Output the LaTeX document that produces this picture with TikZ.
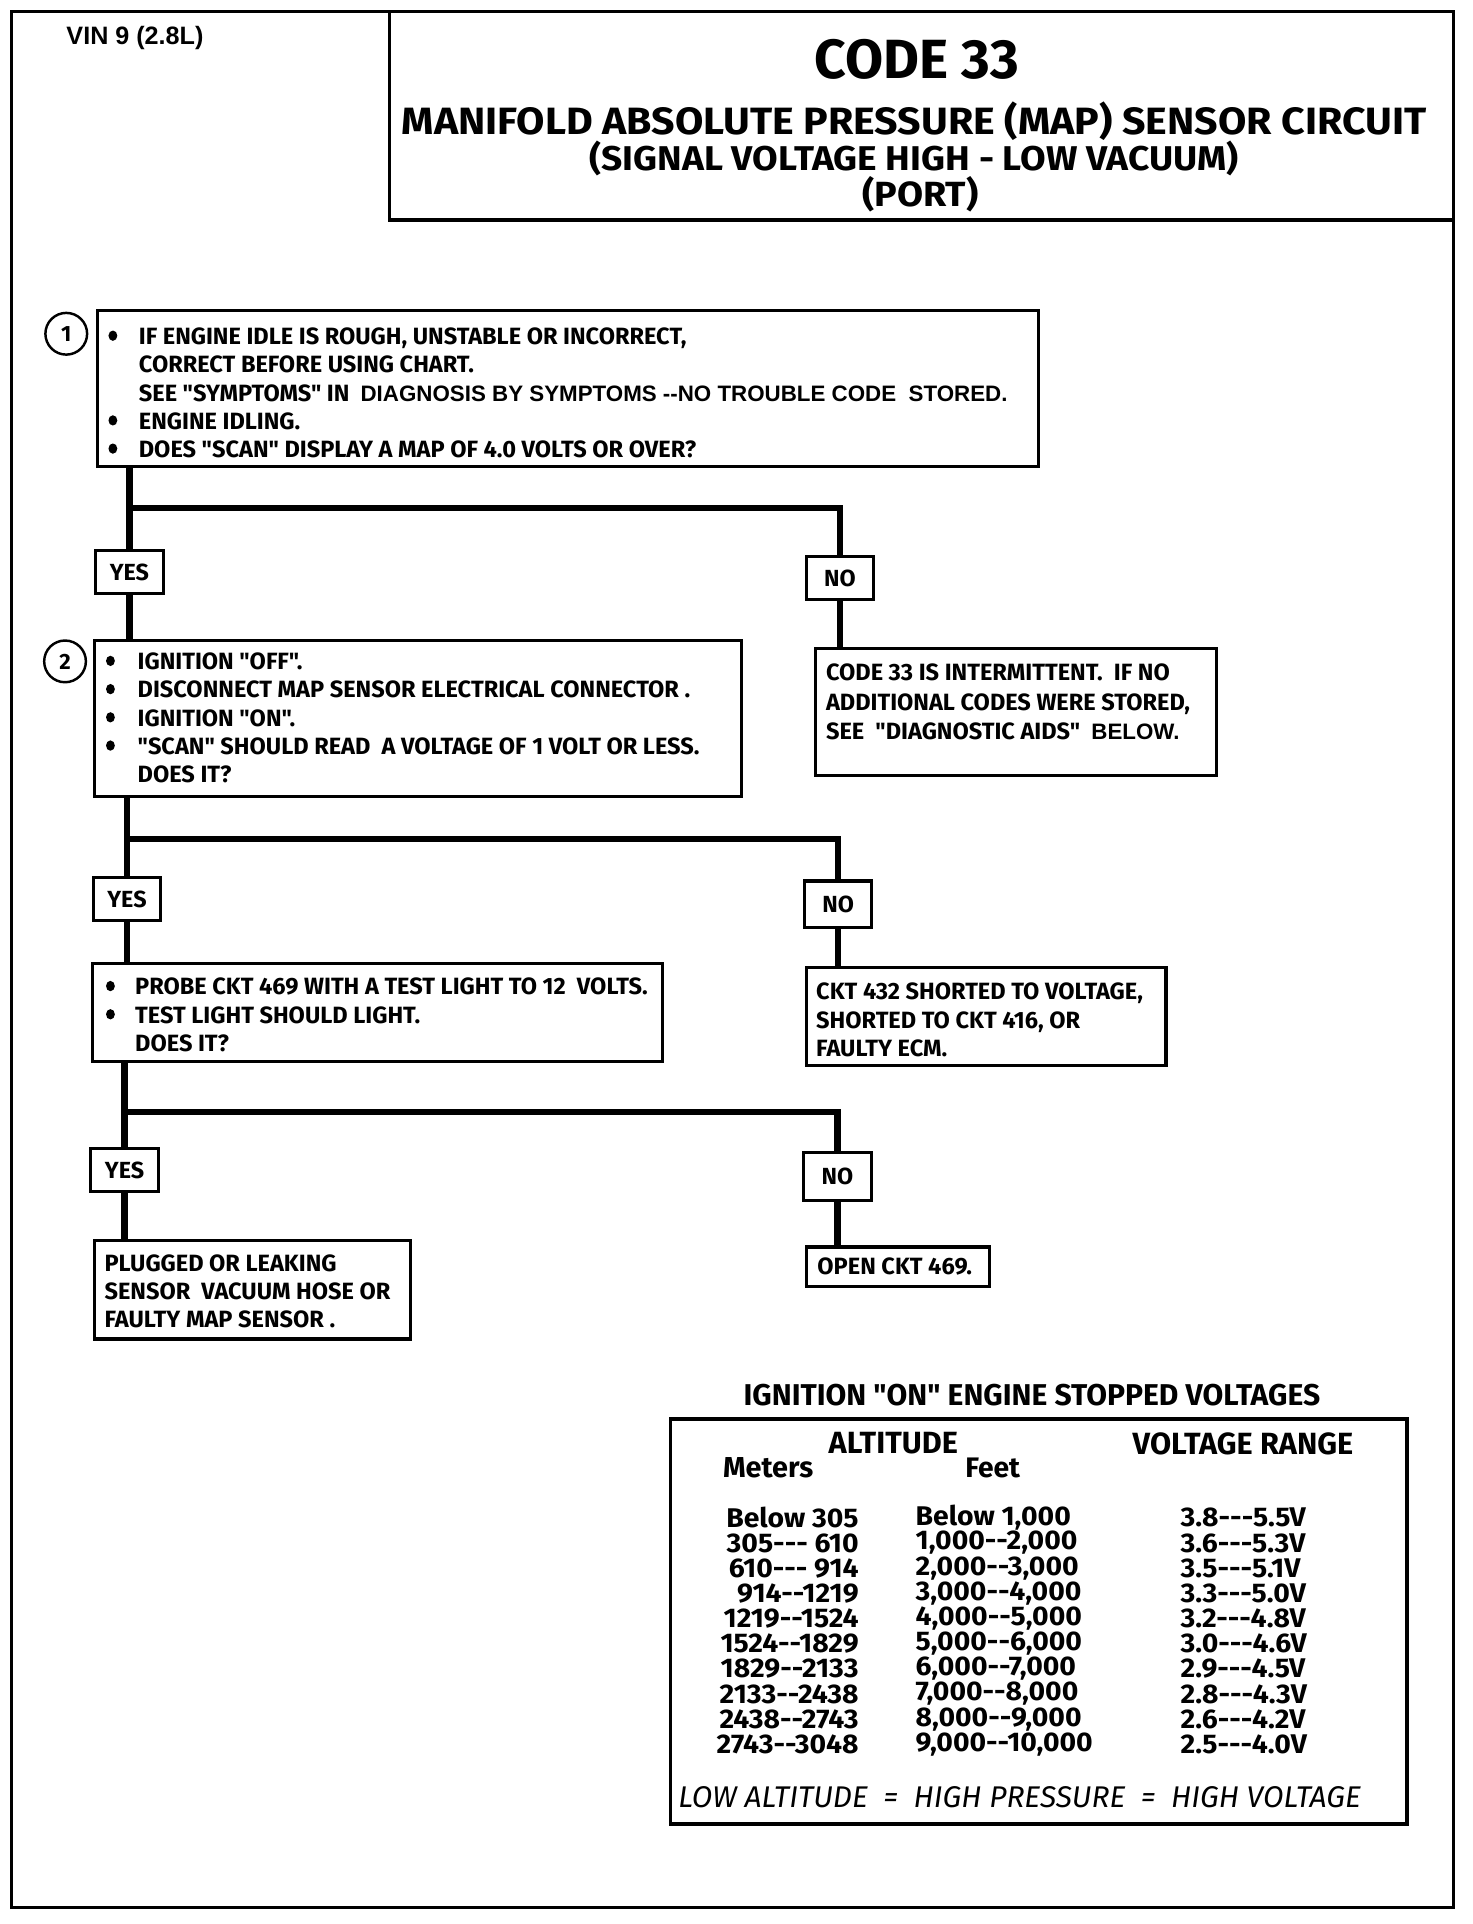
\documentclass[tikz,border=0pt]{standalone}
\usepackage{fontspec}
\setmainfont{Fira Sans}[Ligatures=TeXOff]
\newfontfamily\cf{Fira Sans}[Ligatures=TeXOff,WordSpace=1.3]
\newfontfamily\tf{Fira Sans}[Ligatures=TeXOff]
\newfontfamily\tfw{Fira Sans}[Ligatures=TeXOff,FakeStretch=1.05]
\newfontfamily\hf{Fira Sans}[Ligatures=TeXOff,FakeStretch=1.08]
\newfontfamily\af{Liberation Sans Bold}[Ligatures=TeXOff]
\newcommand{\ar}[1]{{\af\fontsize{18.2}{23}\selectfont #1}}
\tikzset{
  frame/.style={draw, line width=3pt, anchor=north west, inner sep=0pt},
  box/.style={draw, line width=2.5pt, anchor=north west, inner sep=0pt},
  conn/.style={line width=5pt},
  dot/.style={fill=black},
  yn/.style={draw, line width=2.5pt, minimum width=55pt, minimum height=35pt, inner sep=0pt,
    font=\cf\bfseries\fontsize{19}{19}\selectfont},
  txt/.style={anchor=north west, inner sep=0pt, align=left,
    font=\cf\bfseries\fontsize{19.2}{23}\selectfont},
  num/.style={draw, circle, line width=2pt, minimum size=34pt, inner sep=0pt,
    font=\bfseries\fontsize{18}{18}\selectfont},
  tabtxt/.style={inner sep=0pt, font=\tfw\bfseries\fontsize{22}{22}\selectfont},
  tabhead/.style={inner sep=0pt, font=\tf\bfseries\fontsize{25}{25}\selectfont},
}
\begin{document}
\begin{tikzpicture}[x=1pt,y=-1pt]
\useasboundingbox (0,0) rectangle (1200,1568);
\fill[white] (0,0) rectangle (1200,1568);
% outer frame and title box
\node[frame, minimum width=1175pt, minimum height=1545pt] (frm) at (8,8) {};
\node[frame, minimum width=867pt, minimum height=170pt] (tb) at (316,8) {};
\node[font=\af\fontsize{20.5}{20}\selectfont] (vin) at (110,31) {VIN 9 (2.8L)};
\node[font=\cf\bfseries\fontsize{45}{45}\selectfont] (c33) at (747,48) {CODE 33};
\node[font=\hf\bfseries\fontsize{31}{31}\selectfont] (ttl) at (745,99) {MANIFOLD ABSOLUTE PRESSURE (MAP) SENSOR CIRCUIT};
\node[font=\hf\bfseries\fontsize{28}{28}\selectfont] (sub) at (745,129) {(SIGNAL VOLTAGE HIGH - LOW VACUUM)};
\node[font=\hf\bfseries\fontsize{28.5}{28}\selectfont] (port) at (750,158) {(PORT)};

% step 1
\node[num] (s1) at (54,272) {1};
\node[box, minimum width=767pt, minimum height=127pt] (b1) at (78,252) {};
\node[txt] (t1) at (113,267) {IF ENGINE IDLE IS ROUGH, UNSTABLE OR INCORRECT,\\
CORRECT BEFORE USING CHART.\\
SEE "SYMPTOMS" IN \ \ar{DIAGNOSIS BY SYMPTOMS --NO TROUBLE CODE \ STORED.}\\
ENGINE IDLING.\\
DOES "SCAN" DISPLAY A MAP OF 4.0 VOLTS OR OVER?};
\foreach \yy in {273.6,342.6,365.6} \fill[dot] (92,\yy) ellipse (3.6 and 4.2);
\node[yn] (y1) at (105.5,466.5) {YES};
\node[yn] (n1) at (684.5,471) {NO};
\coordinate (j1) at (0,414);

% step 2
\node[num] (s2) at (53,539) {2};
\node[box, minimum width=527pt, minimum height=127pt] (b2) at (76,521) {};
\node[txt] (t2) at (112,532) {IGNITION "OFF".\\
DISCONNECT MAP SENSOR ELECTRICAL CONNECTOR .\\
IGNITION "ON".\\
"SCAN" SHOULD READ \ A VOLTAGE OF 1 VOLT OR LESS.\\
DOES IT?};
\foreach \yy in {538.6,561.6,584.6,607.6} \fill[dot] (90,\yy) ellipse (3.6 and 4.2);
\node[box, minimum width=327pt, minimum height=104pt] (r1) at (663,527) {};
\node[txt, font=\cf\bfseries\fontsize{19.2}{24}\selectfont] (tr1) at (673,541) {CODE 33 IS INTERMITTENT. \ IF NO\\
ADDITIONAL CODES WERE STORED,\\
SEE \ "DIAGNOSTIC AIDS" \ \ar{BELOW.}};
\node[yn] (y2) at (103.5,733) {YES};
\node[yn, minimum height=38pt] (n2) at (683,737) {NO};
\coordinate (j2) at (0,684);

% step 3
\node[box, minimum width=465pt, minimum height=80pt] (b3) at (74,784) {};
\node[txt] (t3) at (110,797) {PROBE CKT 469 WITH A TEST LIGHT TO 12 \ VOLTS.\\
TEST LIGHT SHOULD LIGHT.\\
DOES IT?};
\foreach \yy in {803.6,826.6} \fill[dot] (90,\yy) ellipse (3.6 and 4.2);
\node[box, minimum width=293pt, minimum height=80pt] (r2) at (656,787) {};
\node[txt] (tr2) at (665,801) {CKT 432 SHORTED TO VOLTAGE,\\
SHORTED TO CKT 416, OR\\
FAULTY ECM.};
\node[yn] (y3) at (101.5,953.5) {YES};
\node[yn, minimum height=39pt] (n3) at (682.5,958.5) {NO};
\coordinate (j3) at (0,906);

% results
\node[box, minimum width=257pt, minimum height=80pt] (r3) at (76,1010) {};
\node[txt] (tr3) at (85,1022) {PLUGGED OR LEAKING\\
SENSOR \ VACUUM HOSE OR\\
FAULTY MAP SENSOR .};
\node[box, minimum width=149pt, minimum height=32pt] (r4) at (656,1015) {};
\node[txt, anchor=west] (tr4) at (666,1032) {OPEN CKT 469.};

% connectors
\draw[conn] (b1.south -| y1.north) -- (y1.north);
\draw[conn] (y1.north |- j1) -| (n1.north);
\draw[conn] (y1.south) -- (y1.south |- b2.north);
\draw[conn] (n1.south) -- (n1.south |- r1.north);
\draw[conn] (b2.south -| y2.north) -- (y2.north);
\draw[conn] (y2.north |- j2) -| (n2.north);
\draw[conn] (y2.south) -- (y2.south |- b3.north);
\draw[conn] (n2.south) -- (n2.south |- r2.north);
\draw[conn] (b3.south -| y3.north) -- (y3.north);
\draw[conn] (y3.north |- j3) -| (n3.north);
\draw[conn] (y3.south) -- (y3.south |- r3.north);
\draw[conn] (n3.south) -- (n3.south |- r4.north);

% table
\node[font=\tf\bfseries\fontsize{24.5}{24}\selectfont] (tt) at (841,1137) {IGNITION "ON" ENGINE STOPPED VOLTAGES};
\node[frame, minimum width=600pt, minimum height=330pt] (tab) at (545,1155) {};
\node[tabhead] (alt) at (728,1176) {ALTITUDE};
\node[tabhead] (vr) at (1013,1177) {VOLTAGE RANGE};
\node[inner sep=0pt, font=\tf\bfseries\fontsize{23.5}{23}\selectfont] (met) at (626,1196) {Meters};
\node[inner sep=0pt, font=\tf\bfseries\fontsize{23}{23}\selectfont] (ft) at (809,1196) {Feet};
\foreach \m/\f/\v [count=\i from 0] in {{Below 305/Below 1,000/3.8---5.5V},
  {305--- 610/1,000--2,000/3.6---5.3V},
  {610--- 914/2,000--3,000/3.5---5.1V},
  {914--1219/3,000--4,000/3.3---5.0V},
  {1219--1524/4,000--5,000/3.2---4.8V},
  {1524--1829/5,000--6,000/3.0---4.6V},
  {1829--2133/6,000--7,000/2.9---4.5V},
  {2133--2438/7,000--8,000/2.8---4.3V},
  {2438--2743/8,000--9,000/2.6---4.2V},
  {2743--3048/9,000--10,000/2.5---4.0V}}{
  \node[tabtxt, anchor=east] (m\i) at (700,1237+20.5*\i) {\m};
  \node[tabtxt, anchor=west] (f\i) at (746,1237+20.5*\i) {\f};
  \node[tabtxt, anchor=west] (v\i) at (962,1237+20.5*\i) {\v};
}
\node[inner sep=0pt, font=\tf\itshape\fontsize{24.4}{24}\selectfont] (eq) at (831,1465) {LOW ALTITUDE \ = \ HIGH PRESSURE \ = \ HIGH VOLTAGE};
\end{tikzpicture}
\end{document}
